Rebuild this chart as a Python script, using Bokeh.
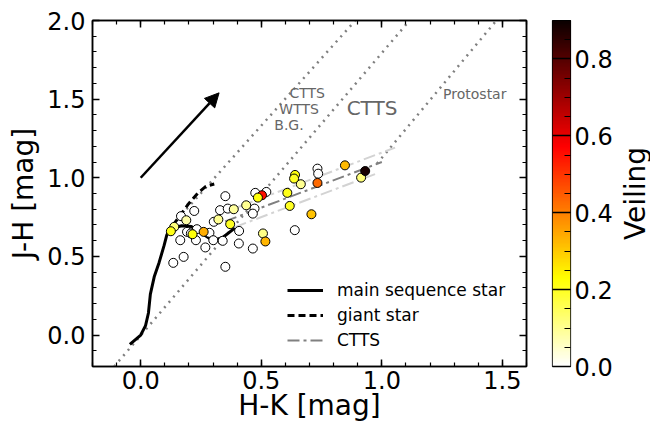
import numpy as np
from bokeh.plotting import figure
from bokeh.layouts import row
from bokeh.models import (LinearAxis, SingleIntervalTicker, FixedTicker, Range1d, LinearColorMapper,
                          Arrow, NormalHead, Legend, LegendItem, ColumnDataSource,
                          PrintfTickFormatter)
from bokeh.core.properties import value
from bokeh.transform import linear_cmap
from bokeh.embed import file_html
from bokeh.resources import INLINE

FONT = "DejaVu Sans"

# ---------------- data ----------------
hk = [0.733, 0.736, 0.639, 0.465, 0.475, 0.521, 0.472, 0.465, 0.351, 0.222,
      0.329, 0.361, 0.303, 0.408, 0.167, 0.192, 0.233, 0.285, 0.164, 0.229,
      0.268, 0.301, 0.340, 0.407, 0.178, 0.135, 0.351, 0.208,
      0.914, 0.664, 0.507, 0.386, 0.4375, 0.322, 0.189, 0.139,
      0.640, 0.636, 0.608, 0.618, 0.503, 0.486, 0.371, 0.125, 0.215,
      0.847, 0.708, 0.517, 0.261, 0.733, 0.931]
jh = [1.058, 1.026, 0.667, 0.550, 0.904, 0.910, 0.804, 0.772, 0.883, 0.789,
      0.794, 0.804, 0.720, 0.662, 0.756, 0.656, 0.673, 0.650, 0.603, 0.603,
      0.557, 0.603, 0.599, 0.582, 0.497, 0.459, 0.434, 0.646,
      1.001, 0.959, 0.646, 0.800, 0.825, 0.735, 0.730, 0.688,
      1.018, 0.995, 0.904, 0.821, 0.889, 0.874, 0.705, 0.660, 0.641,
      1.079, 0.768, 0.595, 0.656, 0.967, 1.043]
veiling = [0.0, 0.0, 0.0, 0.0, 0.0, 0.0, 0.0, 0.0, 0.0, 0.0,
           0.0, 0.0, 0.0, 0.0, 0.0, 0.0, 0.0, 0.0, 0.0, 0.0,
           0.0, 0.0, 0.0, 0.0, 0.0, 0.0, 0.0, 0.0,
           0.12, 0.10, 0.11, 0.09, 0.10, 0.10, 0.08, 0.12,
           0.22, 0.20, 0.21, 0.20, 0.55, 0.22, 0.20, 0.21, 0.22,
           0.32, 0.31, 0.33, 0.34, 0.43, 0.88]

# main sequence (dwarf) locus
ms_hk = [-0.045, 0.0, 0.02, 0.032, 0.04, 0.056, 0.076, 0.097, 0.108, 0.12,
         0.17, 0.21, 0.25, 0.30, 0.34, 0.39]
ms_jh = [-0.06, 0.0, 0.06, 0.14, 0.26, 0.37, 0.46, 0.57, 0.635, 0.675,
         0.695, 0.69, 0.65, 0.60, 0.62, 0.68]
# giant branch
giant_hk = [0.11, 0.13, 0.167, 0.197, 0.239, 0.27, 0.305]
giant_jh = [0.64, 0.69, 0.768, 0.832, 0.906, 0.945, 0.96]
# CTTS locus and its band
ctts_hk = [0.35, 1.00]
ctts_jh = [0.723, 1.100]
ctts_up_hk = [0.39, 1.055]
ctts_up_jh = [0.806, 1.192]
ctts_lo_hk = [0.39, 0.98]
ctts_lo_jh = [0.686, 1.028]
# reddening lines
red1_hk = [0.19, 0.89]
red1_jh = [0.80, 2.0]
red2_hk = [-0.11, 1.115]
red2_jh = [-0.2, 2.0]
red3_hk = [0.98, 1.475]
red3_jh = [1.09, 2.0]
# extinction vector
arrow_hk = [0.0, 0.325]
arrow_jh = [1.0, 1.54]
# region labels
small_labels = ["CTTS", "WTTS", "B.G.", "Protostar"]
small_hk = [0.617, 0.575, 0.554, 1.254]
small_jh = [1.536, 1.435, 1.333, 1.530]
big_labels = ["CTTS"]
big_hk = [0.854]
big_jh = [1.443]

axis_tick_interval = 0.5
cbar_tick_interval = 0.2
veil_min, veil_max = 0.0, 0.9


# ---------------- colormap (matplotlib hot_r) ----------------
def hot(t):
    r = 0.0416 + (1 - 0.0416) * min(t / 0.365079, 1.0)
    g = min(max((t - 0.365079) / (0.746032 - 0.365079), 0.0), 1.0)
    b = min(max((t - 0.746032) / (1 - 0.746032), 0.0), 1.0)
    return "#%02x%02x%02x" % (int(round(r * 255)), int(round(g * 255)), int(round(b * 255)))


palette = [hot(1 - i / 255) for i in range(256)]

FH = 346  # frame height shared by all panels

# ---------------- main figure ----------------
p = figure(frame_width=434, frame_height=FH,
           x_range=Range1d(-0.2, 1.6), y_range=Range1d(-0.2, 2.0),
           output_backend="svg", toolbar_location=None,
           min_border_left=92, min_border_right=10, min_border_top=20, min_border_bottom=0)
p.grid.visible = False
p.outline_line_color = "black"
p.outline_line_width = 1.5
p.background_fill_color = "white"

p.add_layout(LinearAxis(), "above")
p.add_layout(LinearAxis(), "right")


def style_axis(ax, labels):
    ax.ticker = SingleIntervalTicker(interval=axis_tick_interval, num_minor_ticks=5)
    ax.formatter = PrintfTickFormatter(format="%.1f")
    ax.major_tick_in = 7
    ax.major_tick_out = 0
    ax.minor_tick_in = 4
    ax.minor_tick_out = 0
    ax.axis_line_width = 1.5
    ax.axis_line_color = "black"
    ax.major_tick_line_width = 1.5
    ax.minor_tick_line_width = 1.2
    ax.major_label_text_font = FONT
    ax.axis_label_text_font = FONT
    ax.axis_label_text_font_style = "normal"
    ax.axis_label_text_color = "black"
    if labels:
        ax.major_label_text_color = "black"
        ax.major_label_text_font_size = "24px"
        ax.axis_label_text_font_size = "28px"
    else:
        # mirror axes: ticks only, labels not drawn
        ax.major_label_text_color = None
        ax.major_label_text_font_size = "1px"
        ax.major_label_standoff = 0


for ax in p.below + p.left:
    style_axis(ax, True)
for ax in p.above + p.right:
    style_axis(ax, False)

p.below[0].axis_label = "H-K [mag]"
p.below[0].major_label_standoff = 4
p.below[0].axis_label_standoff = -3
p.left[0].axis_label = "J-H [mag]"
p.left[0].major_label_standoff = 7
p.left[0].axis_label_standoff = 4

# reddening band lines
for xs, ys in [(red1_hk, red1_jh), (red2_hk, red2_jh), (red3_hk, red3_jh)]:
    p.line(xs, ys, line_color="gray", line_width=2.5, line_dash="2 5")

# CTTS band
p.line(ctts_up_hk, ctts_up_jh, line_color="lightgray", line_width=2, line_dash="12 4 3 4")
p.line(ctts_lo_hk, ctts_lo_jh, line_color="lightgray", line_width=2, line_dash="12 4 3 4")
r_ctts = p.line(ctts_hk, ctts_jh, line_color="gray", line_width=2, line_dash="12 4 3 4")

r_ms = p.line(ms_hk, ms_jh, line_color="black", line_width=3)
r_gi = p.line(giant_hk, giant_jh, line_color="black", line_width=3, line_dash="7 4")

src = ColumnDataSource(dict(hk=hk, jh=jh, veiling=veiling))
p.scatter(x="hk", y="jh", source=src, size=9, line_color="black", line_width=1,
          fill_color=linear_cmap("veiling", palette, veil_min, veil_max))

p.add_layout(Arrow(end=NormalHead(size=14, fill_color="black", line_color="black"),
                   x_start=arrow_hk[0], y_start=arrow_jh[0],
                   x_end=arrow_hk[1], y_end=arrow_jh[1],
                   line_width=2.5, line_color="black"))

p.text(x=small_hk, y=small_jh, text=small_labels, text_font=value(FONT),
       text_font_size="14px", text_color="#666666", text_align="left", text_baseline="middle")
p.text(x=big_hk, y=big_jh, text=big_labels, text_font=value(FONT),
       text_font_size="20px", text_color="#666666", text_align="left", text_baseline="middle")

legend = Legend(items=[LegendItem(label="main sequence star", renderers=[r_ms]),
                       LegendItem(label="giant star", renderers=[r_gi]),
                       LegendItem(label="CTTS", renderers=[r_ctts])],
                location=(195, 16))
legend.border_line_color = None
legend.background_fill_alpha = 0
legend.label_text_font = FONT
legend.label_text_font_size = "17px"
legend.label_text_color = "black"
legend.glyph_width = 36
legend.glyph_height = 20
legend.label_height = 20
legend.spacing = 5
legend.label_standoff = 14
legend.padding = 0
legend.margin = 0
p.add_layout(legend)

# ---------------- colorbar figure ----------------
mapper = LinearColorMapper(palette=palette, low=veil_min, high=veil_max)
cb = figure(frame_width=18, frame_height=FH,
            x_range=Range1d(0, 1), y_range=Range1d(veil_min, veil_max),
            x_axis_location=None, y_axis_location="right",
            output_backend="svg", toolbar_location=None,
            min_border_left=16, min_border_right=0, min_border_top=20, min_border_bottom=40)
cb.grid.visible = False
cb.outline_line_color = "black"
cb.outline_line_width = 1.2
grad = np.linspace(veil_min, veil_max, 256).reshape(-1, 1)
cb.image(image=[grad], x=0, y=veil_min, dw=1, dh=veil_max - veil_min, color_mapper=mapper)
cax = cb.right[0]
cax.ticker = SingleIntervalTicker(interval=cbar_tick_interval, num_minor_ticks=4)
cax.formatter = PrintfTickFormatter(format="%.1f")
cax.major_tick_in = 18
cax.major_tick_out = 0
cax.minor_tick_in = 6
cax.minor_tick_out = 0
cax.major_tick_line_width = 1.5
cax.minor_tick_line_width = 1.2
cax.axis_line_color = None
cax.major_label_text_font = FONT
cax.major_label_text_font_size = "24px"
cax.major_label_text_color = "black"
cax.major_label_standoff = 4

# ---------------- colorbar label panel ----------------
lab = figure(frame_width=1, frame_height=FH,
             x_range=Range1d(0, 1), y_range=Range1d(0, 1),
             x_axis_location=None, y_axis_location="left",
             output_backend="svg", toolbar_location=None,
             min_border_left=0, min_border_right=0, min_border_top=20, min_border_bottom=40)
lab.grid.visible = False
lab.outline_line_color = None
lax = lab.left[0]
lax.ticker = FixedTicker(ticks=[])
lax.axis_line_color = None
lax.major_tick_in = 0
lax.major_tick_out = 0
lax.minor_tick_in = 0
lax.minor_tick_out = 0
lax.major_label_text_color = None
lax.major_label_text_font_size = "1px"
lax.major_label_standoff = 0
lax.axis_label = "Veiling"
lax.axis_label_text_font = FONT
lax.axis_label_text_font_size = "28px"
lax.axis_label_text_font_style = "normal"
lax.axis_label_text_color = "black"
lax.axis_label_standoff = 0

layout = row(p, cb, lab)
open("out.html", "w").write(file_html(layout, INLINE))
